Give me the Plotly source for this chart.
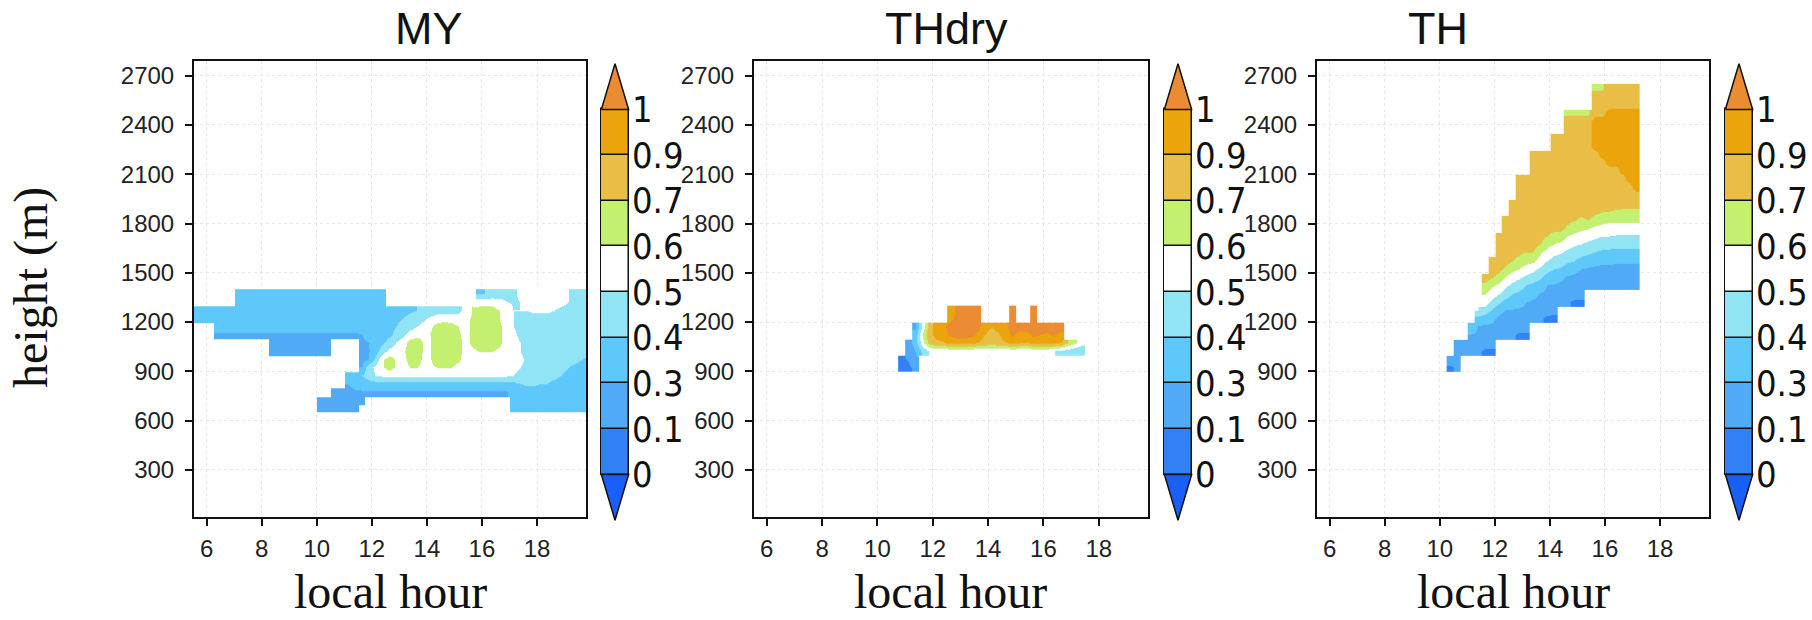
import numpy as np
import plotly.graph_objects as go

N = None
W, H = 1812, 620

# ---------------- colour levels ----------------
levels = [0, 0.1, 0.3, 0.4, 0.5, 0.6, 0.7, 0.9, 1]
level_labels = ["0", "0.1", "0.3", "0.4", "0.5", "0.6", "0.7", "0.9", "1"]
# below 0, 0-0.1, 0.1-0.3, 0.3-0.4, 0.4-0.5, 0.5-0.6, 0.6-0.7, 0.7-0.9, 0.9-1, above 1
level_colors = ["#195FFA", "#3282F5", "#50AAF5", "#5FC8FA", "#91E4F3",
                "#FFFFFF", "#C3F06E", "#E8BE46", "#ECA40C", "#EB8C32"]

titles = ["MY", "THdry", "TH"]
x_ticks = [6, 8, 10, 12, 14, 16, 18]
y_ticks = [300, 600, 900, 1200, 1500, 1800, 2100, 2400, 2700]

# ---------------- MY ----------------
hours_my = [5.625, 5.875, 6.125, 6.375, 6.625, 6.875, 7.125, 7.375, 7.625, 7.875,
            8.125, 8.375, 8.625, 8.875, 9.125, 9.375, 9.625, 9.875, 10.125, 10.375,
            10.625, 10.875, 11.125, 11.375, 11.625, 11.875, 12.125, 12.375, 12.625, 12.875,
            13.125, 13.375, 13.625, 13.875, 14.125, 14.375, 14.625, 14.875, 15.125, 15.375,
            15.625, 15.875, 16.125, 16.375, 16.625, 16.875, 17.125, 17.375, 17.625, 17.875,
            18.125, 18.375, 18.625, 18.875, 19.125, 19.375, 19.625, 19.875]
heights_my = [675, 725, 775, 825, 875, 925, 975, 1025, 1075, 1125, 1175, 1225, 1275, 1325, 1375]
vals_my = [
    # 675
    [N, N, N, N, N, N, N, N, N, N, N, N, N, N, N, N, N, N,
     .2, .2, .2, .2, .2, .2,
     N, N, N, N, N, N, N, N, N, N, N, N, N, N, N, N, N, N, N, N, N, N,
     .35, .35, .35, .35, .35, .35, .35, .35, .35, .35, .35, .35],
    # 725
    [N, N, N, N, N, N, N, N, N, N, N, N, N, N, N, N, N, N,
     .2, .2, .2, .2, .2, .2, .25,
     N, N, N, N, N, N, N, N, N, N, N, N, N, N, N, N, N, N, N, N, N,
     .35, .35, .35, .35, .35, .35, .35, .35, .35, .35, .35, .35],
    # 775
    [N, N, N, N, N, N, N, N, N, N, N, N, N, N, N, N, N, N, N, N,
     .22, .25, .27, .28, .28,
     .28, .28, .28, .28, .28, .28, .28, .28, .28, .28, .28, .28, .28, .28, .28, .28, .28, .28, .28, .28, .28,
     .32, .35, .35, .35, .35, .35, .35, .35, .35, .35, .35, .35],
    # 825
    [N, N, N, N, N, N, N, N, N, N, N, N, N, N, N, N, N, N, N, N, N, N,
     .3, .32, .34, .36,
     .37, .37, .37, .37, .37, .37, .37, .37, .37, .37, .37, .37, .37, .37, .37, .37, .37, .37, .37, .37,
     .38, .4, .42, .42, .4, .4, .38, .37, .35, .35, .35, .35],
    # 875
    [N, N, N, N, N, N, N, N, N, N, N, N, N, N, N, N, N, N, N, N, N, N,
     .3, .33, .4, .45, .5,
     .52, .52, .52, .52, .52, .52, .52, .52, .52, .52, .52, .52, .52, .52, .52, .52, .52, .52, .52,
     .5, .47, .45, .45, .44, .43, .42, .4, .38, .36, .35, .35],
    # 925
    [N, N, N, N, N, N, N, N, N, N, N, N, N, N, N, N, N, N, N, N, N, N, N, N,
     .3, .45, .52, .58, .65, .58, .55, .6, .6, .56, .58, .6, .6, .6, .57, .55, .55, .55, .55, .55,
     .55, .55, .53, .5, .48, .46, .45, .45, .44, .42, .4, .38, .37, .36],
    # 975
    [N, N, N, N, N, N, N, N, N, N, N, N, N, N, N, N, N, N, N, N, N, N, N, N,
     .25, .3, .42, .58, .65, .58, .56, .65, .65, .58, .59, .66, .66, .66, .62, .56, .56, .56, .56, .56,
     .56, .56, .55, .52, .48, .46, .45, .45, .45, .45, .44, .42, .4, .38],
    # 1025
    [N, N, N, N, N, N, N, N, N, N, N,
     .2, .2, .2, .2, .2, .2, .2, .2, .2,
     N, N, N, N,
     .25, .28, .35, .45, .53, .56, .58, .66, .66, .59, .59, .67, .67, .67, .63, .57, .58, .6, .6, .6,
     .58, .57, .54, .5, .47, .46, .45, .45, .45, .45, .45, .44, .43, .42],
    # 1075
    [N, N, N, N, N, N, N, N, N, N, N,
     .22, .22, .22, .22, .22, .22, .22, .22, .22,
     N, N, N, N,
     .28, .3, .33, .38, .43, .5, .55, .64, .66, .59, .59, .67, .67, .67, .63, .57, .62, .66, .66, .66,
     .62, .56, .53, .5, .47, .46, .45, .45, .45, .45, .45, .45, .44, .44],
    # 1125
    [N, N, N,
     .27, .27, .27, .27, .27, .27, .27, .27, .27, .27, .27, .27, .27, .27, .27, .27, .27, .27, .27, .27, .27,
     .3, .32, .34, .36, .38, .42, .48, .54, .56, .57, .6, .66, .66, .66, .62, .56, .63, .66, .66, .66,
     .62, .56, .52, .48, .46, .45, .45, .45, .45, .45, .45, .45, .44, .44],
    # 1175
    [N, N, N,
     .35, .35, .35, .35, .35, .35, .35, .35, .35, .35, .35, .35, .35, .35, .35, .35, .35, .35, .35, .35, .35,
     .35, .35, .36, .37, .38, .4, .43, .46, .5, .53, .58, .64, .65, .64, .6, .55, .62, .66, .66, .66,
     .62, .56, .5, .47, .46, .45, .45, .45, .45, .45, .45, .45, .44, .44],
    # 1225
    [.35, .35, .35,
     .35, .35, .35, .35, .35, .35, .35, .35, .35, .35, .35, .35, .35, .35, .35, .35, .35, .35, .35, .35, .35,
     .35, .35, .35, .36, .37, .38, .4, .42, .45, .48, .52, .55, .56, .55, .53, .55, .62, .65, .66, .65,
     .6, .55, .5, .47, .46, .46, .46, .46, .45, .45, .45, .45, .44, .44],
    # 1275
    [.35, .35, .35, .35, .35, .35, .35, .35, .35, .35, .35, .35, .35, .35, .35, .35, .35, .35, .35, .35,
     .35, .35, .35, .35, .35, .35, .35, .35,
     .36, .37, .38, .39, .4, .42, .43, .45, .46, .46, .48, .52, .6, .64, .65, .64, .6, .55,
     .5, .5, .5, .52, .52, .52, .5, .48, .47, .46, .45, .45],
    # 1325
    [N, N, N, N, N, N,
     .35, .35, .35, .35, .35, .35, .35, .35, .35, .35, .35, .35, .35, .35, .35, .35, .35, .35, .35, .35, .35, .35,
     N, N, N, N, N, N, N, N, N, N, N, N, N,
     .55, .55, .55, .53, .5, .49, .5, .53, .55, .56, .56, .55, .53, .5, .48, .46, .45],
    # 1375
    [N, N, N, N, N, N,
     .35, .35, .35, .35, .35, .35, .35, .35, .35, .35, .35, .35, .35, .35, .35, .35, .35, .35, .35, .35, .35, .35,
     N, N, N, N, N, N, N, N, N, N, N, N, N,
     .38, .4, .42, .44, .46, .48, .52, .55, .57, .57, .57, .56, .54, .5, .47, .45, .45],
]

# ---------------- THdry ----------------
hours_thdry = [10.875, 11.125, 11.375, 11.625, 11.875, 12.125, 12.375, 12.625, 12.875, 13.125,
               13.375, 13.625, 13.875, 14.125, 14.375, 14.625, 14.875, 15.125, 15.375, 15.625,
               15.875, 16.125, 16.375, 16.625, 16.875, 17.125, 17.375]
heights_thdry = [925, 975, 1025, 1075, 1125, 1175, 1225, 1275]
vals_thdry = [
    [.05, .08, .15, N, N, N, N, N, N, N, N, N, N, N, N, N, N, N, N, N, N, N, N, N, N, N, N],
    [.08, .12, .25, N, N, N, N, N, N, N, N, N, N, N, N, N, N, N, N, N, N, N, N, N, N, N, N],
    [N, .15, .3, .42, .5, .53, .53, .53, .53, .53, .53, .53, .53, .53, .53, .53, .53, .53, .53, .53, .53, .53, .5, .48, .45, .42, .4],
    [N, .2, .35, .55, .75, .85, .88, .92, .93, .93, .92, .88, .82, .8, .82, .88, .92, .9, .88, .92, .93, .93, .92, .88, .7, .62, .55],
    [N, N, .32, .6, .85, .93, .95, 1.02, 1.05, 1.05, 1.03, .97, .9, .85, .88, .95, 1.02, .97, .97, 1.02, 1.0, .98, 1.02, .97, N, N, N],
    [N, N, .28, .5, .82, .93, .97, 1.05, 1.05, 1.05, 1.05, 1.03, .93, .9, .92, .97, 1.05, 1.03, 1.03, 1.05, 1.05, 1.05, 1.05, 1.03, N, N, N],
    [N, N, N, N, N, N, N, .95, 1.05, 1.05, 1.05, 1.05, N, N, N, N, 1.05, N, N, 1.05, N, N, N, N, N, N, N],
    [N, N, N, N, N, N, N, .9, 1.05, 1.05, 1.05, 1.05, N, N, N, N, 1.05, N, N, 1.05, N, N, N, N, N, N, N],
]

# ---------------- TH (stored per hour column: first height row, values upward) ----------------
hours_th = [10.375, 10.625, 10.875, 11.125, 11.375, 11.625, 11.875, 12.125, 12.375, 12.625,
            12.875, 13.125, 13.375, 13.625, 13.875, 14.125, 14.375, 14.625, 14.875, 15.125,
            15.375, 15.625, 15.875, 16.125, 16.375, 16.625, 16.875, 17.125]
heights_th = [925, 975, 1025, 1075, 1125, 1175, 1225, 1275, 1325, 1375, 1425, 1475, 1525, 1575,
              1625, 1675, 1725, 1775, 1825, 1875, 1925, 1975, 2025, 2075, 2125, 2175, 2225, 2275,
              2325, 2375, 2425, 2475, 2525, 2575, 2625]
columns_th = [
    (0, [.09, .2]),
    (0, [.12, .2, .22, .27]),
    (2, [.2, .27]),
    (2, [.2, .25, .28, .38]),
    (2, [.15, .22, .27, .29, .38, .5]),
    (2, [.08, .2, .25, .28, .35, .45, .55, .6, .68, .8]),
    (2, [.08, .18, .24, .28, .32, .4, .47, .55, .62, .72, .8, .8]),
    (4, [.15, .22, .27, .33, .42, .5, .58, .66, .76, .8, .8, .8, .8]),
    (4, [.15, .22, .26, .3, .37, .45, .53, .6, .68, .78, .8, .8, .8, .8, .8]),
    (4, [.15, .2, .25, .29, .35, .4, .48, .55, .63, .7, .8, .8, .8, .8, .8, .8, .8]),
    (4, [.08, .2, .25, .28, .33, .38, .44, .52, .6, .66, .75, .8, .8, .8, .8, .8, .8, .8, .8, .8]),
    (4, [.08, .18, .23, .27, .3, .36, .4, .48, .56, .63, .7, .8, .8, .8, .8, .8, .8, .8, .8, .8]),
    (6, [.15, .22, .27, .33, .38, .45, .53, .62, .7, .78, .8, .8, .8, .8, .8, .8, .8, .8, .8, .8, .8]),
    (6, [.15, .2, .25, .29, .35, .42, .48, .56, .62, .7, .8, .8, .8, .8, .8, .8, .8, .8, .8, .8, .8]),
    (6, [.08, .18, .23, .27, .3, .37, .43, .5, .57, .63, .7, .8, .8, .8, .8, .8, .8, .8, .8, .8, .8]),
    (6, [.08, .15, .22, .26, .29, .35, .4, .46, .53, .6, .66, .75, .8, .8, .8, .8, .8, .8, .8, .8, .8, .8, .8]),
    (8, [.15, .2, .26, .32, .39, .44, .51, .58, .65, .76, .8, .8, .8, .8, .8, .8, .8, .8, .8, .8, .8]),
    (8, [.15, .2, .24, .28, .35, .42, .48, .55, .6, .68, .76, .8, .8, .8, .8, .8, .8, .8, .8, .8, .8, .8, .8, .68]),
    (8, [.08, .18, .23, .27, .32, .4, .45, .52, .58, .64, .72, .8, .8, .8, .8, .8, .8, .8, .8, .8, .8, .8, .8, .68]),
    (8, [.08, .17, .22, .26, .3, .37, .43, .5, .56, .62, .68, .76, .8, .8, .8, .8, .8, .8, .8, .8, .8, .8, .8, .68]),
    (10, [.15, .22, .28, .35, .42, .48, .54, .61, .7, .8, .8, .8, .8, .8, .8, .8, .8, .8, .8, .8, .8, .68]),
    (10, [.15, .2, .26, .33, .4, .46, .52, .58, .66, .75, .8, .8, .8, .8, .8, .8, .8, .95, .95, .95, .95, .8, .8, .8, .68]),
    (10, [.15, .2, .25, .32, .38, .45, .5, .57, .63, .72, .8, .8, .8, .8, .8, .8, .95, .95, .95, .95, .95, .8, .8, .8, .68]),
    (10, [.15, .2, .25, .32, .38, .44, .5, .56, .62, .7, .8, .8, .8, .8, .8, .95, .95, .95, .95, .95, .95, .95, .8, .8, .8]),
    (10, [.15, .2, .25, .31, .37, .43, .49, .56, .62, .69, .8, .8, .8, .8, .8, .95, .95, .95, .95, .95, .95, .95, .8, .8, .8]),
    (10, [.15, .2, .25, .31, .37, .43, .49, .55, .62, .68, .8, .8, .8, .8, .95, .95, .95, .95, .95, .95, .95, .95, .8, .8, .8]),
    (10, [.15, .2, .25, .31, .37, .43, .49, .55, .62, .68, .8, .8, .8, .95, .95, .95, .95, .95, .95, .95, .95, .95, .8, .8, .8]),
    (10, [.15, .2, .25, .31, .37, .43, .49, .55, .62, .68, .8, .8, .95, .95, .95, .95, .95, .95, .95, .95, .95, .95, .8, .8, .8]),
]

# build TH grid (rows = heights, cols = hours)
vals_th = [[None] * len(hours_th) for _ in heights_th]
for j, (start, col) in enumerate(columns_th):
    for k, v in enumerate(col):
        vals_th[start + k][j] = v


def to_index(v):
    """map a value onto the colour-class index scale (levels -> 0..8)"""
    if v is None:
        return None
    if v < levels[0]:
        return -0.5
    if v > levels[-1]:
        return min(8 + (v - levels[-1]) * 10, 8.95)
    return float(np.interp(v, levels, np.arange(len(levels))))


def grid_index(rows):
    return [[to_index(v) for v in row] for row in rows]


nclass = len(level_colors)
colorscale = []
for k, c in enumerate(level_colors):
    colorscale.append([k / nclass, c])
    colorscale.append([(k + 1) / nclass, c])

# ---------------- geometry (pixels) ----------------
plot_x = [(194, 586), (754, 1148), (1317, 1709)]
plot_y = (61, 517.3)
cbar_x = [(600, 630), (1163, 1193), (1724, 1754)]
cbar_y = (62, 522)
title_x = [429, 947, 1438]

fig = go.Figure()
layout = dict(width=W, height=H, margin=dict(l=0, r=0, t=0, b=0),
              paper_bgcolor="white", plot_bgcolor="white", showlegend=False,
              bargap=0)

data_sets = [(hours_my, heights_my, vals_my),
             (hours_thdry, heights_thdry, vals_thdry),
             (hours_th, heights_th, vals_th)]

tickfont = dict(family="Liberation Sans, Arial, sans-serif", size=24, color="#222222")
annotations = []
nlev = len(levels)

for i, (hrs, hts, vals) in enumerate(data_sets):
    n = i + 1
    xa = "x" if n == 1 else f"x{n}"
    ya = "y" if n == 1 else f"y{n}"
    fig.add_trace(go.Heatmap(x=hrs, y=hts, z=grid_index(vals), zmin=-1, zmax=nclass - 1,
                             colorscale=colorscale, zsmooth="best", showscale=False,
                             hoverinfo="skip", xaxis=xa, yaxis=ya))
    axis_common = dict(showline=True, linewidth=2, linecolor="#111111", mirror=True,
                       ticks="outside", ticklen=7, tickwidth=1.5, tickcolor="#111111",
                       showgrid=True, gridcolor="#e6e6e6", gridwidth=1, griddash="dot",
                       zeroline=False, tickfont=tickfont)
    layout[f"xaxis{'' if n == 1 else n}"] = dict(
        domain=[plot_x[i][0] / W, plot_x[i][1] / W], range=[5.54, 19.78],
        tickvals=x_ticks, anchor=ya, ticklabelstandoff=2, **axis_common)
    layout[f"yaxis{'' if n == 1 else n}"] = dict(
        domain=[1 - plot_y[1] / H, 1 - plot_y[0] / H], range=[12, 2789],
        tickvals=y_ticks, anchor=xa, ticklabelstandoff=6, **axis_common)

    # ----- colour bar drawn on its own small axes -----
    cn = n + 3
    cxa, cya = f"x{cn}", f"y{cn}"
    nbox = nlev - 1
    fig.add_trace(go.Bar(x=[0.5] * nbox, y=[1] * nbox, base=list(range(nbox)),
                         width=[1] * nbox,
                         marker=dict(color=level_colors[1:nbox + 1],
                                     line=dict(color="#111111", width=1.5)),
                         hoverinfo="skip", xaxis=cxa, yaxis=cya))
    fig.add_trace(go.Scatter(x=[0, 1, 0.5, 0], y=[nbox, nbox, nbox + 1, nbox], mode="lines",
                             fill="toself", fillcolor=level_colors[-1],
                             line=dict(color="#111111", width=1.5),
                             hoverinfo="skip", xaxis=cxa, yaxis=cya))
    fig.add_trace(go.Scatter(x=[0, 1, 0.5, 0], y=[0, 0, -1, 0], mode="lines",
                             fill="toself", fillcolor=level_colors[0],
                             line=dict(color="#111111", width=1.5),
                             hoverinfo="skip", xaxis=cxa, yaxis=cya))
    layout[f"xaxis{cn}"] = dict(domain=[cbar_x[i][0] / W, cbar_x[i][1] / W],
                                range=[-0.05, 1.05], visible=False, anchor=cya)
    layout[f"yaxis{cn}"] = dict(domain=[1 - cbar_y[1] / H, 1 - cbar_y[0] / H],
                                range=[-1.04, nbox + 1.04], anchor=cxa, side="right",
                                showgrid=False, zeroline=False, showline=False, ticks="",
                                tickvals=list(range(nlev)), ticktext=level_labels,
                                ticklabelstandoff=1,
                                tickfont=dict(family="Liberation Sans Narrow, Arial Narrow, DejaVu Sans Condensed, sans-serif",
                                              size=36, color="#111111"))

    # titles
    annotations.append(dict(text=titles[i], x=title_x[i] / W, y=1 - 28 / H,
                            xref="paper", yref="paper", xanchor="center", yanchor="middle",
                            showarrow=False,
                            font=dict(family="Liberation Sans, Arial, sans-serif", size=45, color="#111111")))
    annotations.append(dict(text="local hour", x=(plot_x[i][0] + plot_x[i][1]) / 2 / W,
                            y=1 - 591 / H, xref="paper", yref="paper",
                            xanchor="center", yanchor="middle", showarrow=False,
                            font=dict(family="Liberation Serif, Times New Roman, serif", size=48, color="#111111")))

annotations.append(dict(text="height (m)", x=31 / W, y=1 - 288 / H, xref="paper", yref="paper",
                        xanchor="center", yanchor="middle", textangle=-90, showarrow=False,
                        font=dict(family="Liberation Serif, Times New Roman, serif", size=48, color="#111111")))
layout["annotations"] = annotations
fig.update_layout(**layout)
fig.write_html("out.html")
